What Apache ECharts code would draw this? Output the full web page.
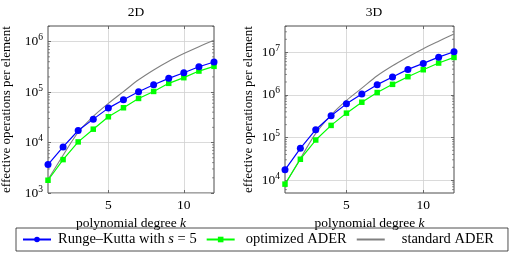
<!DOCTYPE html>
<html><head><meta charset="utf-8">
<script src="https://cdn.jsdelivr.net/npm/echarts@6/dist/echarts.min.js"></script>
<style>html,body{margin:0;padding:0;background:#fff}#c{width:515px;height:258px}</style>
</head><body><div id="c"></div>
<script>
var degrees = [1,2,3,4,5,6,7,8,9,10,11,12];
var rk2d  = [3660, 8200, 17300, 29100, 48100, 70400, 101600, 140000, 187000, 242000, 318000, 394000];
var opt2d = [1790, 4590, 10300, 18400, 32400, 48900, 74800, 103000, 149000, 193000, 261000, 324000];
var std2d = [1840, 5600, 16000, 33000, 59600, 102000, 175000, 275000, 410000, 580000, 795000, 1060000];
var rk3d  = [17500, 55800, 152000, 322000, 614000, 1050000, 1730000, 2610000, 3940000, 5440000, 7640000, 10200000];
var opt3d = [8070, 30900, 87300, 192000, 372000, 671000, 1130000, 1760000, 2660000, 3870000, 5550000, 7520000];
var std3d = [7940, 32000, 125000, 335000, 738000, 1430000, 2800000, 4800000, 7700000, 12000000, 18000000, 26700000];
var xTicks = [5, 10];
var yTicks2d = [1e3, 1e4, 1e5, 1e6];
var yTicks3d = [1e4, 1e5, 1e6, 1e7];
var titles = ['2D', '3D'];
var names = ['Runge–Kutta with s = 5', 'optimized ADER', 'standard ADER'];

var FONT = 'Liberation Serif';
var FS = 13.5;
var frameColor = '#4d4d4d';
var gridColor = '#d0d0d0';

function pairs(ys){ return degrees.map(function(k,i){ return [k, ys[i]]; }); }
function minorVals(lo, hi){
  var out = [];
  for (var e = Math.floor(Math.log10(lo)); e <= Math.ceil(Math.log10(hi)); e++) {
    for (var m = 2; m <= 9; m++) { var v = m * Math.pow(10, e); if (v > lo && v < hi) out.push([1, v]); }
  }
  return out;
}
function supFmt(v){ var e = Math.round(Math.log10(v)); return '10{sup|' + e + '}'; }
var labelRich = { sup: { fontSize: 9.5, fontFamily: FONT, color: '#000', verticalAlign: 'bottom', padding: [0,0,8,0] } };

var grids = [
  { left: 48, top: 26, width: 166, height: 167, show: true, borderColor: frameColor, borderWidth: 1, outerBoundsMode: 'none', containLabel: false },
  { left: 285, top: 26, width: 169, height: 167, show: true, borderColor: frameColor, borderWidth: 1, outerBoundsMode: 'none', containLabel: false }
];
var ranges = [[1000, 2.04e6], [5000, 4.1e7]];
var yTickSets = [yTicks2d, yTicks3d];

var xAxes = [], yAxes = [], series = [];
[0,1].forEach(function(g){
  xAxes.push({
    type: 'value', gridIndex: g, min: 1, max: 12, position: 'bottom',
    name: '{n|polynomial degree }{i|k}', nameLocation: 'middle', nameGap: 23,
    nameTextStyle: { rich: { n: { fontFamily: FONT, fontSize: FS, color: '#000' }, i: { fontFamily: FONT, fontSize: FS, fontStyle: 'italic', color: '#000' } } },
    axisLine: { show: false },
    axisTick: { show: true, inside: true, length: 3, customValues: xTicks, lineStyle: { color: frameColor, width: 0.8 } },
    axisLabel: { customValues: xTicks, fontFamily: FONT, fontSize: FS, color: '#000', margin: 5 },
    splitLine: { show: true, lineStyle: { color: gridColor, width: 0.8 } }
  });
  xAxes.push({
    type: 'value', gridIndex: g, min: 1, max: 12, position: 'top',
    axisLine: { show: false },
    axisTick: { show: true, inside: true, length: 3, customValues: xTicks, lineStyle: { color: frameColor, width: 0.8 } },
    axisLabel: { show: false }, splitLine: { show: false }
  });
  yAxes.push({
    type: 'log', logBase: 10, gridIndex: g, min: ranges[g][0], max: ranges[g][1], position: 'left',
    name: 'effective operations per element', nameLocation: 'middle', nameGap: g === 0 ? 35 : 30,
    nameTextStyle: { fontFamily: FONT, fontSize: 13, color: '#000' },
    axisLine: { show: false },
    axisTick: { show: true, inside: true, length: 3, customValues: yTickSets[g], lineStyle: { color: frameColor, width: 0.8 } },
    axisLabel: { customValues: yTickSets[g], formatter: supFmt, fontFamily: FONT, fontSize: FS, color: '#000', margin: 5, rich: labelRich },
    splitLine: { show: true, lineStyle: { color: gridColor, width: 0.8 } }
  });
  yAxes.push({
    type: 'log', logBase: 10, gridIndex: g, min: ranges[g][0], max: ranges[g][1], position: 'right',
    axisLine: { show: false },
    axisTick: { show: true, inside: true, length: 3, customValues: yTickSets[g], lineStyle: { color: frameColor, width: 0.8 } },
    axisLabel: { show: false }, splitLine: { show: false }
  });
  var xi = g * 2, yi = g * 2;
  series.push({
    type: 'custom', name: 'minor' + g, xAxisIndex: xi, yAxisIndex: yi, silent: true, z: 1,
    data: minorVals(ranges[g][0], ranges[g][1]),
    renderItem: function(params, api){
      var v = api.value(1);
      var l = api.coord([1, v]), r = api.coord([12, v]);
      var st = { stroke: frameColor, lineWidth: 0.6 };
      return { type: 'group', children: [
        { type: 'line', shape: { x1: l[0], y1: l[1], x2: l[0] + 2, y2: l[1] }, style: st },
        { type: 'line', shape: { x1: r[0], y1: r[1], x2: r[0] - 2, y2: r[1] }, style: st }
      ] };
    }
  });
  var dsets = g === 0 ? [rk2d, opt2d, std2d] : [rk3d, opt3d, std3d];
  series.push({
    type: 'line', name: names[2], xAxisIndex: xi, yAxisIndex: yi, data: pairs(dsets[2]),
    smooth: 0.3, symbol: 'none', lineStyle: { color: '#808080', width: 1.1 }, itemStyle: { color: '#808080' }, z: 3
  });
  series.push({
    type: 'line', name: names[1], xAxisIndex: xi, yAxisIndex: yi, data: pairs(dsets[1]),
    symbol: 'rect', symbolSize: 5.5, lineStyle: { color: '#00ff00', width: 1.2 }, itemStyle: { color: '#00ff00' }, z: 4
  });
  series.push({
    type: 'line', name: names[0], xAxisIndex: xi, yAxisIndex: yi, data: pairs(dsets[0]),
    symbol: 'circle', symbolSize: 7, lineStyle: { color: '#0000ff', width: 1.2 }, itemStyle: { color: '#0000ff' }, z: 5
  });
});

var LFS = 14.5;
function lt(extra){ var o = { fontFamily: FONT, fontSize: LFS, color: '#000' }; for (var k in extra) o[k] = extra[k]; return o; }
var chart = echarts.init(document.getElementById('c'), null, { renderer: 'canvas' });
chart.setOption({
  animation: false,
  title: [
    { text: titles[0], left: 131, top: 0, textAlign: 'center', textStyle: { fontFamily: FONT, fontSize: FS, fontWeight: 'normal', color: '#000' } },
    { text: titles[1], left: 369, top: 0, textAlign: 'center', textStyle: { fontFamily: FONT, fontSize: FS, fontWeight: 'normal', color: '#000' } }
  ],
  grid: grids,
  xAxis: xAxes,
  yAxis: yAxes,
  legend: {
    data: [
      { name: names[0] },
      { name: names[1] },
      { name: names[2], itemStyle: { opacity: 0 } }
    ],
    left: 16, top: 228, itemWidth: 28, itemHeight: 7, itemGap: 9,
    padding: [4, 14, 4, 6], borderColor: '#222', borderWidth: 0.8,
    formatter: function(n){
      if (n === names[0]) return '{a|Runge–Kutta with }{i|s}{n| = 5}';
      if (n === names[1]) return '{b|' + n + '}';
      return '{c|' + n + '}';
    },
    textStyle: { fontFamily: FONT, fontSize: LFS, color: '#000', rich: {
      a: lt({ padding: [0, 0, 0, 2] }),
      b: lt({ padding: [0, 0, 0, 6] }),
      c: lt({ padding: [0, 0, 0, 12] }),
      n: lt({}),
      i: lt({ fontStyle: 'italic' }) } }
  },
  series: series
});
</script>
</body></html>
